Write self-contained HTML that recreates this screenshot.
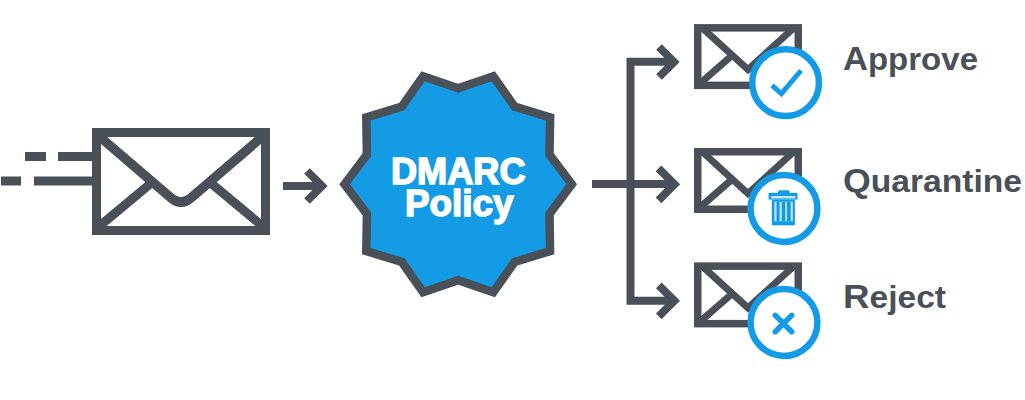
<!DOCTYPE html>
<html><head><meta charset="utf-8"><style>
html,body{margin:0;padding:0;background:#fff;width:1025px;height:400px;overflow:hidden}
svg{display:block}
text{font-family:"Liberation Sans",sans-serif;font-weight:bold}
</style></head><body>
<svg width="1025" height="400" viewBox="0 0 1025 400">
<g fill="none" stroke="#4a5058" stroke-width="8" stroke-linejoin="miter">
  <path d="M25 156.5H46M58 156.5H96M1 181H21M34 181H96" stroke-width="9"/>
  <rect x="96.5" y="132.5" width="169" height="98" stroke-width="9"/>
  <path d="M100 137L171 197.8Q181 206.4 191 197.8L262 137" stroke-width="9.5" stroke-linejoin="round"/>
  <path d="M96 229L152.5 182M266 229L209.5 182" stroke-width="9"/>
  <path d="M283 186H321"/>
  <path d="M307 171L322 186L307 201"/>
  <path d="M674 61.75H630.5V300.8H674"/>
  <path d="M592 184.1H674"/>
  <path d="M659 47L674 62L659 77"/>
  <path d="M658.5 168.3L674.5 184.3L658.5 200.3"/>
  <path d="M658.8 285.3L674.3 300.8L658.8 316.3"/>
</g>
<polygon points="344.6,184.3 366.9,154.6 366.3,117.5 401.8,106.6 423.1,76.3 458.2,88.3 493.3,76.3 514.6,106.6 550.1,117.5 549.5,154.6 571.8,184.3 549.5,214.0 550.1,251.1 514.6,262.0 493.3,292.3 458.2,280.3 423.1,292.3 401.8,262.0 366.3,251.1 366.9,214.0" fill="#149be5" stroke="#4a5058" stroke-width="8.5" stroke-linejoin="miter" stroke-miterlimit="10"/>
<text x="391" y="183.5" font-size="36" fill="#fff" stroke="#fff" stroke-width="1.5" textLength="134.5" lengthAdjust="spacingAndGlyphs">DMARC</text>
<text x="405" y="216" font-size="36" fill="#fff" stroke="#fff" stroke-width="1.5" textLength="108.5" lengthAdjust="spacingAndGlyphs">Policy</text>
<g fill="none" stroke="#4a5058" stroke-width="7.5">
  <g transform="translate(694,24.1)"><rect x="3.75" y="3.75" width="100.5" height="57.5"/><path d="M8.2 3.75L54 45.5L99.8 3.75" stroke-width="7"/><path d="M4 61L39 30.5" stroke-width="7"/></g>
  <g transform="translate(694,148)"><rect x="3.75" y="3.75" width="100.5" height="57.5"/><path d="M8.2 3.75L54 45.5L99.8 3.75" stroke-width="7"/><path d="M4 61L39 30.5" stroke-width="7"/></g>
  <g transform="translate(694,262.4)"><rect x="3.75" y="3.75" width="100.5" height="57.5"/><path d="M8.2 3.75L54 45.5L99.8 3.75" stroke-width="7"/><path d="M4 61L39 30.5" stroke-width="7"/></g>
</g>
<g fill="#fff" stroke="#149be5" stroke-width="6.5">
  <circle cx="785.6" cy="82.7" r="33.4"/>
  <circle cx="784" cy="208.5" r="33.4"/>
  <circle cx="784" cy="322.5" r="33.4"/>
</g>
<g fill="none" stroke="#149be5" stroke-width="6">
  <path d="M772 85.3L781.4 93.7L801 70.5" stroke-width="5"/>
  <path d="M775.3 315.3L791.7 331.7M791.7 315.3L775.3 331.7" stroke-width="5.5" stroke-linecap="round"/>
</g>
<g fill="#149be5">
  <rect x="778.1" y="190.2" width="11.5" height="4" rx="1.5"/>
  <rect x="768.6" y="192.8" width="28.9" height="6.8"/>
  <rect x="771.8" y="199.6" width="23.1" height="25.7"/>
</g>
<g fill="#c4e8fb">
  <rect x="771.2" y="196" width="24.2" height="2.4"/>
  <rect x="774.4" y="201.7" width="18.4" height="19.5"/>
</g>
<g fill="#149be5">
  <rect x="776.5" y="201.7" width="3.1" height="19.5"/>
  <rect x="781.7" y="201.7" width="3.6" height="19.5"/>
  <rect x="787" y="201.7" width="3.7" height="19.5"/>
</g>
<g fill="#4a5058">
<text x="843" y="69.5" font-size="31.5" textLength="135" lengthAdjust="spacingAndGlyphs"><tspan font-size="33">A</tspan>pprove</text>
<text x="843" y="191.5" font-size="31" textLength="179" lengthAdjust="spacingAndGlyphs"><tspan font-size="33">Q</tspan>uarantine</text>
<text x="843" y="307.8" font-size="31" textLength="103" lengthAdjust="spacingAndGlyphs"><tspan font-size="34">R</tspan>eject</text>
</g>
</svg>
</body></html>
